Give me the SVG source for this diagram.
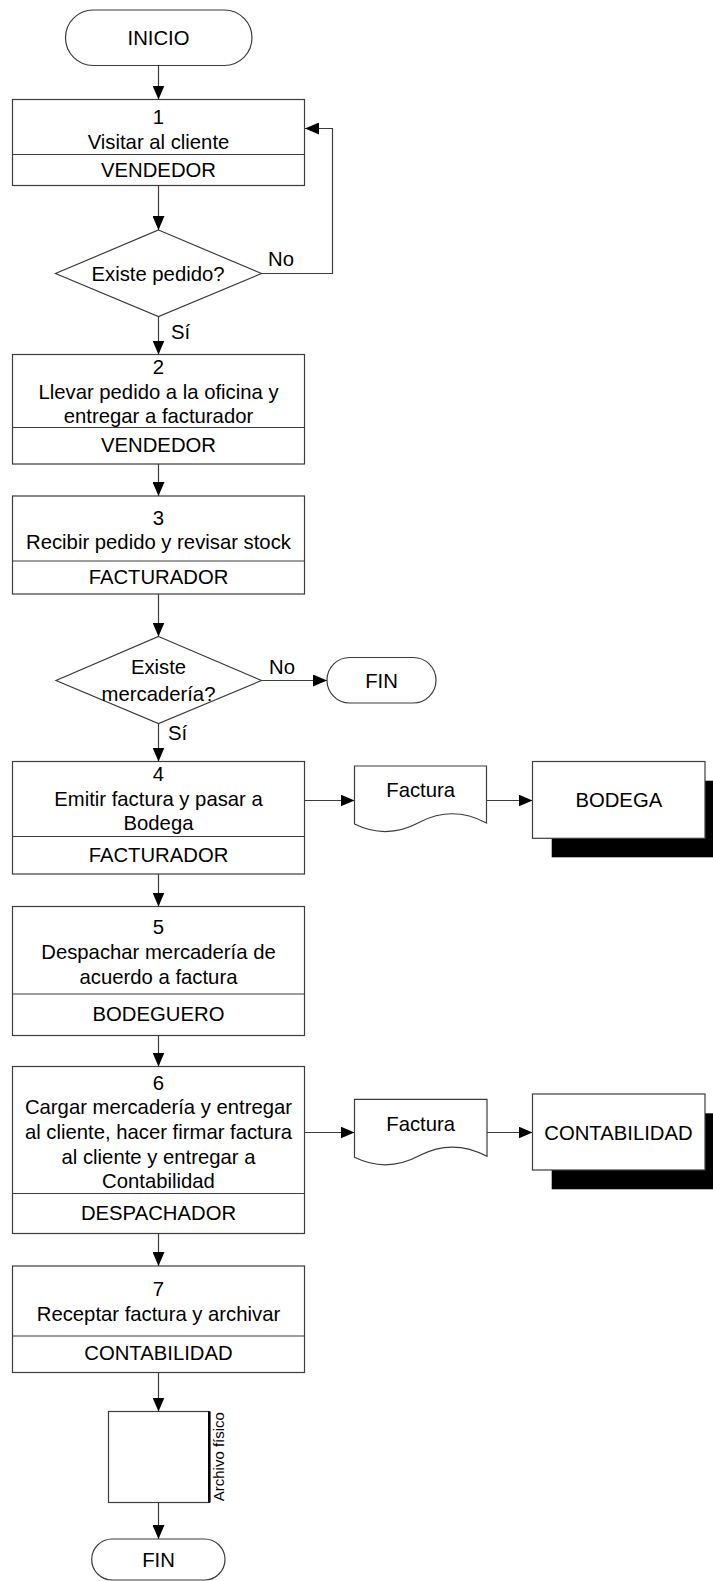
<svg xmlns="http://www.w3.org/2000/svg" width="713" height="1581" viewBox="0 0 713 1581">
  <style>
    .shape { fill: #ffffff; stroke: #3c3c3c; stroke-width: 1.2; }
    .div { stroke: #3c3c3c; stroke-width: 1.2; fill: none; }
    .shadow { fill: #000000; stroke: none; }
    .conn { fill: none; stroke: #3c3c3c; stroke-width: 1.2; marker-end: url(#arrow); }
    text { font-family: "Liberation Sans", Arial, sans-serif; font-size: 20.3px; fill: #000000; }
    .c { text-anchor: middle; }
    .small { font-size: 15px; }
  </style>
  <defs>
    <marker id="arrow" markerUnits="userSpaceOnUse" markerWidth="14" markerHeight="12" refX="14" refY="6" orient="auto">
      <path d="M0,0 L14,6 L0,12 Z" fill="#000000"/>
    </marker>
  </defs>

  <rect width="713" height="1581" fill="#ffffff"/>

  <!-- connectors -->
  <g id="connectors">
    <line class="conn" x1="158.5" y1="65.5" x2="158.5" y2="99.5"/>
    <line class="conn" x1="158.5" y1="185.5" x2="158.5" y2="230"/>
    <path class="conn" d="M261.5,273.5 H332.5 V128.5 H305"/>
    <line class="conn" x1="158.5" y1="316.5" x2="158.5" y2="354.5"/>
    <line class="conn" x1="158.5" y1="464" x2="158.5" y2="496"/>
    <line class="conn" x1="158.5" y1="594" x2="158.5" y2="636.5"/>
    <line class="conn" x1="261.5" y1="680.5" x2="327" y2="680.5"/>
    <line class="conn" x1="158.5" y1="723.5" x2="158.5" y2="761.5"/>
    <line class="conn" x1="304.5" y1="800.5" x2="354.5" y2="800.5"/>
    <line class="conn" x1="486.5" y1="800.5" x2="532.5" y2="800.5"/>
    <line class="conn" x1="158.5" y1="874" x2="158.5" y2="906.5"/>
    <line class="conn" x1="158.5" y1="1035.5" x2="158.5" y2="1066.5"/>
    <line class="conn" x1="304.5" y1="1132.5" x2="354.5" y2="1132.5"/>
    <line class="conn" x1="487" y1="1132.5" x2="532.5" y2="1132.5"/>
    <line class="conn" x1="158.5" y1="1233.5" x2="158.5" y2="1266"/>
    <line class="conn" x1="158.5" y1="1372.5" x2="158.5" y2="1411.5"/>
    <line class="conn" x1="158.5" y1="1502.5" x2="158.5" y2="1539"/>
  </g>

  <!-- start -->
  <g id="inicio">
    <rect class="shape" x="65.5" y="10" width="186.5" height="55.5" rx="27.7"/>
    <text class="c" x="158.5" y="44.5">INICIO</text>
  </g>

  <!-- step 1 -->
  <g id="paso1">
    <rect class="shape" x="12.5" y="99.5" width="292" height="86"/>
    <line class="div" x1="12.5" y1="154.5" x2="304.5" y2="154.5"/>
    <text class="c" x="158.5" y="124">1</text>
    <text class="c" x="158.5" y="149">Visitar al cliente</text>
    <text class="c" x="158.5" y="177">VENDEDOR</text>
  </g>

  <!-- decision: order -->
  <g id="decision1">
    <polygon class="shape" points="158.5,230 261.5,273.5 158.5,316.5 55.5,273.5"/>
    <text class="c" x="158" y="281">Existe pedido?</text>
    <text x="268" y="266">No</text>
    <text x="171" y="339">Sí</text>
  </g>

  <!-- step 2 -->
  <g id="paso2">
    <rect class="shape" x="12.5" y="354.5" width="292" height="109.5"/>
    <line class="div" x1="12.5" y1="427.5" x2="304.5" y2="427.5"/>
    <text class="c" x="158.5" y="373.7">2</text>
    <text class="c" x="158.5" y="398.7">Llevar pedido a la oficina y</text>
    <text class="c" x="158.5" y="423">entregar a facturador</text>
    <text class="c" x="158.5" y="452">VENDEDOR</text>
  </g>

  <!-- step 3 -->
  <g id="paso3">
    <rect class="shape" x="12.5" y="496" width="292" height="98"/>
    <line class="div" x1="12.5" y1="561" x2="304.5" y2="561"/>
    <text class="c" x="158.5" y="524.7">3</text>
    <text class="c" x="158.5" y="548.7">Recibir pedido y revisar stock</text>
    <text class="c" x="158.5" y="583.7">FACTURADOR</text>
  </g>

  <!-- decision: stock -->
  <g id="decision2">
    <polygon class="shape" points="158.5,636.5 261.5,680.5 158.5,723.5 56,680.5"/>
    <text class="c" x="158.5" y="674">Existe</text>
    <text class="c" x="158.5" y="701">mercadería?</text>
    <text x="269" y="674">No</text>
    <text x="168" y="740">Sí</text>
  </g>

  <!-- end (no stock) -->
  <g id="fin1">
    <rect class="shape" x="327" y="657.5" width="109" height="45.5" rx="22.7"/>
    <text class="c" x="381.5" y="687.7">FIN</text>
  </g>

  <!-- step 4 -->
  <g id="paso4">
    <rect class="shape" x="12.5" y="761.5" width="292" height="112.5"/>
    <line class="div" x1="12.5" y1="836.5" x2="304.5" y2="836.5"/>
    <text class="c" x="158.5" y="781">4</text>
    <text class="c" x="158.5" y="805.7">Emitir factura y pasar a</text>
    <text class="c" x="158.5" y="830.4">Bodega</text>
    <text class="c" x="158.5" y="862.3">FACTURADOR</text>
  </g>

  <!-- document: invoice to warehouse -->
  <g id="factura1">
    <path class="shape" d="M354.5,766 H486.5 V823 Q453,805 420,822 Q387,840 354.5,824 Z"/>
    <text class="c" x="420.7" y="797">Factura</text>
  </g>

  <!-- warehouse -->
  <g id="bodega">
    <rect class="shadow" x="551.7" y="780.7" width="172.3" height="76.6"/>
    <rect class="shape" x="532.5" y="761.5" width="172.5" height="76.8"/>
    <text class="c" x="618.8" y="807">BODEGA</text>
  </g>

  <!-- step 5 -->
  <g id="paso5">
    <rect class="shape" x="12.5" y="906.5" width="292" height="129"/>
    <line class="div" x1="12.5" y1="994" x2="304.5" y2="994"/>
    <text class="c" x="158.5" y="933.7">5</text>
    <text class="c" x="158.5" y="958.7">Despachar mercadería de</text>
    <text class="c" x="158.5" y="983.7">acuerdo a factura</text>
    <text class="c" x="158.5" y="1021">BODEGUERO</text>
  </g>

  <!-- step 6 -->
  <g id="paso6">
    <rect class="shape" x="12.5" y="1066.5" width="292" height="167"/>
    <line class="div" x1="12.5" y1="1193.5" x2="304.5" y2="1193.5"/>
    <text class="c" x="158.5" y="1089.7">6</text>
    <text class="c" x="158.5" y="1114.4">Cargar mercadería y entregar</text>
    <text class="c" x="158.5" y="1139">al cliente, hacer firmar factura</text>
    <text class="c" x="158.5" y="1163.7">al cliente y entregar a</text>
    <text class="c" x="158.5" y="1188.4">Contabilidad</text>
    <text class="c" x="158.5" y="1220.3">DESPACHADOR</text>
  </g>

  <!-- document: invoice to accounting -->
  <g id="factura2">
    <path class="shape" d="M354.5,1099.3 H487 V1156.3 Q453,1138.3 420,1155.3 Q387,1173.3 354.5,1157.3 Z"/>
    <text class="c" x="420.7" y="1131">Factura</text>
  </g>

  <!-- accounting -->
  <g id="contabilidad">
    <rect class="shadow" x="551.7" y="1113.3" width="172.3" height="76"/>
    <rect class="shape" x="532.5" y="1094" width="172.5" height="76"/>
    <text class="c" x="618.5" y="1140.3">CONTABILIDAD</text>
  </g>

  <!-- step 7 -->
  <g id="paso7">
    <rect class="shape" x="12.5" y="1266" width="292" height="106.5"/>
    <line class="div" x1="12.5" y1="1336" x2="304.5" y2="1336"/>
    <text class="c" x="158.5" y="1296.3">7</text>
    <text class="c" x="158.5" y="1321">Receptar factura y archivar</text>
    <text class="c" x="158.5" y="1360.3">CONTABILIDAD</text>
  </g>

  <!-- physical archive -->
  <g id="archivo">
    <rect class="shape" x="108.5" y="1411.5" width="100.8" height="91"/>
    <line x1="209.3" y1="1411.5" x2="209.3" y2="1502.5" stroke="#000000" stroke-width="2.6"/>
    <text class="c small" transform="translate(224,1456.7) rotate(-90)">Archivo físico</text>
  </g>

  <!-- end -->
  <g id="fin2">
    <rect class="shape" x="91.7" y="1539" width="133.3" height="41" rx="20.5"/>
    <text class="c" x="158.5" y="1567">FIN</text>
  </g>
</svg>
